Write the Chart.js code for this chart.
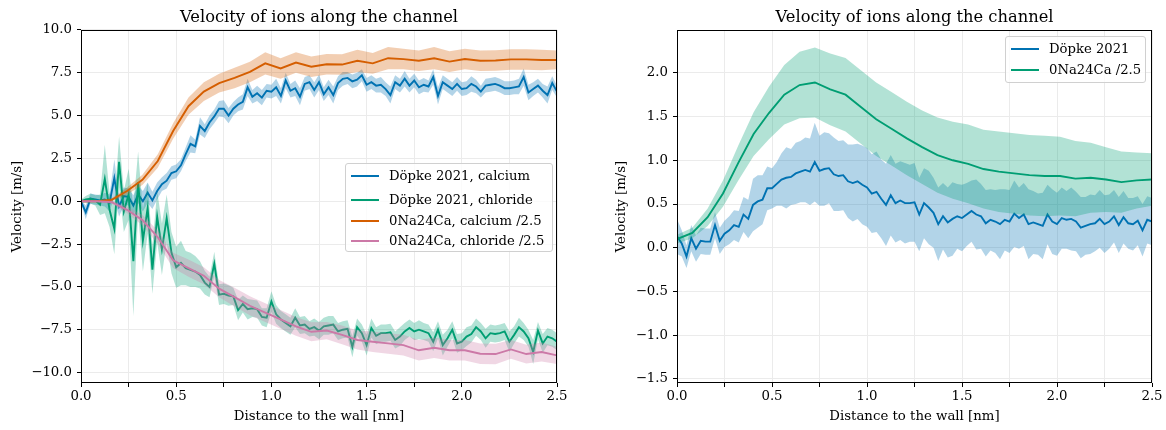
<!DOCTYPE html>
<html><head><meta charset="utf-8">
<script src="https://cdn.jsdelivr.net/npm/chart.js@4/dist/chart.umd.min.js"></script>
<style>
html,body{margin:0;padding:0;background:#fff}
body{width:1166px;height:430px;overflow:hidden;position:relative;font-family:'DejaVu Serif',serif}
#w1{position:absolute;left:0;top:0;width:580px;height:430px}
#w2{position:absolute;left:580px;top:0;width:586px;height:430px}
.legend{position:absolute;background:rgba(255,255,255,0.8);border:1px solid #d0d0d0;border-radius:3px;box-sizing:border-box;font-family:'DejaVu Serif',serif;font-size:13.2px;color:#000}
.legend .row{position:absolute;left:0;height:16px;line-height:16px;white-space:nowrap}
.legend .sw{position:absolute;left:5px;top:7px;width:28px;height:2px}
.legend .tx{position:absolute;left:43px;top:0}
</style></head>
<body>
<div id="w1"><canvas id="c1" width="580" height="430"></canvas></div>
<div id="w2"><canvas id="c2" width="586" height="430"></canvas></div>
<div id="lg1" class="legend" style="left:345px;top:163px;width:208px;height:89px"></div>
<div id="lg2" class="legend" style="left:1005px;top:36px;width:141px;height:47px"></div>
<script>
// ---------- data ----------
const titleText = 'Velocity of ions along the channel';
const xAxisTitle = 'Distance to the wall [nm]';
const yAxisTitle = 'Velocity [m/s]';
const xTickValues = [0,0.25,0.5,0.75,1,1.25,1.5,1.75,2,2.25,2.5];
const xTickLabels = ['0.0','','0.5','','1.0','','1.5','','2.0','','2.5'];
const yTicksLeft = [-10,-7.5,-5,-2.5,0,2.5,5,7.5,10];
const yTicksRight = [-1.5,-1,-0.5,0,0.5,1,1.5,2];
const legendLeftLabels = ['Do\u0308pke 2021, calcium','Do\u0308pke 2021, chloride','0Na24Ca, calcium /2.5','0Na24Ca, chloride /2.5'];
const legendRightLabels = ['Do\u0308pke 2021','0Na24Ca /2.5'];

// Döpke 2021: 101 samples, 0.025 nm apart
const dopkeCount = 101, dopkeStep = 0.025;
// 0Na24Ca: 32 samples spanning 0..2.5 nm
const simCount = 32, simStep = 2.5/31;

const dopkeCalcium = [0.0,-0.65,0.15,0.1,0.05,0.1,-0.1,1.35,-0.3,0.3,
 0.25,-0.25,0.4,0.0,0.5,0.05,0.6,1.0,1.2,1.65,
 1.75,2.1,2.75,3.35,3.2,4.4,4.1,4.6,4.95,5.4,
 5.4,5.0,5.4,5.65,5.8,6.65,6.1,6.3,6.05,6.45,
 6.4,6.65,6.15,7.05,6.45,6.6,6.1,6.85,6.95,6.5,
 6.95,6.25,6.65,6.2,6.9,7.15,7.2,7.0,7.1,7.35,
 6.8,6.95,6.75,6.8,6.55,6.2,6.95,6.75,7.15,6.75,
 7.05,6.65,6.8,6.7,7.25,6.15,6.95,6.75,6.55,6.85,
 6.55,6.6,6.85,6.7,6.4,6.75,6.8,6.85,6.75,6.6,
 6.6,6.65,6.7,7.25,6.35,6.55,6.75,6.45,6.2,6.9,
 6.4];
const dopkeCalciumSd = [0.1,0.4,0.3,0.3,0.3,0.4,0.5,1.1,0.6,0.5,
 0.5,0.6,0.5,0.6,0.6,0.5,0.5,0.4,0.45,0.4,
 0.4,0.35,0.4,0.5,0.4,0.5,0.4,0.4,0.4,0.45,
 0.5,0.45,0.4,0.4,0.45,0.5,0.4,0.45,0.45,0.4,
 0.4,0.5,0.45,0.45,0.4,0.45,0.5,0.4,0.4,0.45,
 0.45,0.4,0.45,0.5,0.4,0.4,0.35,0.4,0.4,0.35,
 0.4,0.4,0.4,0.45,0.4,0.5,0.4,0.4,0.45,0.4,
 0.4,0.4,0.4,0.35,0.45,0.5,0.4,0.4,0.4,0.4,
 0.4,0.4,0.45,0.4,0.35,0.4,0.4,0.4,0.4,0.4,
 0.4,0.4,0.45,0.5,0.45,0.4,0.4,0.4,0.5,0.4,
 0.35];
const dopkeChloride = [0.0,0.1,0.15,0.05,-0.2,1.3,-0.5,-1.6,2.3,-0.6,
 0.4,-3.5,1.1,-2.3,-0.4,-4.0,-0.9,-2.8,-1.0,-3.0,
 -3.85,-3.6,-3.9,-4.0,-4.1,-4.3,-4.75,-5.0,-3.65,-5.45,
 -5.4,-5.5,-5.55,-6.35,-6.0,-6.3,-6.25,-6.3,-6.75,-6.8,
 -5.85,-6.6,-6.9,-7.1,-7.3,-6.8,-7.25,-7.2,-7.45,-7.35,
 -7.55,-7.3,-7.25,-7.2,-7.6,-7.5,-7.45,-8.5,-7.35,-7.7,
 -8.4,-7.4,-7.85,-7.7,-7.7,-7.65,-8.1,-7.9,-7.6,-7.4,
 -7.6,-7.5,-7.6,-7.7,-8.2,-7.5,-8.4,-8.0,-7.5,-8.3,
 -8.2,-7.9,-7.75,-7.35,-7.6,-8.0,-7.7,-7.75,-7.7,-7.6,
 -8.2,-7.8,-7.35,-7.6,-8.0,-8.8,-7.55,-8.3,-7.9,-8.0,
 -8.2];
const dopkeChlorideSd = [0.1,0.2,0.3,0.3,0.6,2.0,1.0,1.5,1.5,1.2,
 1.5,3.2,1.8,1.8,1.5,1.4,1.5,1.5,1.4,1.2,
 1.2,1.3,1.0,1.0,0.9,0.8,0.7,0.6,0.7,0.6,
 0.6,0.6,0.5,0.6,0.5,0.6,0.5,0.5,0.5,0.55,
 0.6,0.55,0.5,0.5,0.5,0.55,0.5,0.5,0.45,0.5,
 0.5,0.5,0.55,0.5,0.5,0.5,0.5,0.6,0.5,0.5,
 0.6,0.55,0.5,0.5,0.5,0.5,0.5,0.55,0.5,0.5,
 0.5,0.55,0.5,0.5,0.55,0.5,0.6,0.5,0.5,0.55,
 0.5,0.55,0.5,0.5,0.5,0.55,0.5,0.5,0.5,0.5,
 0.6,0.5,0.55,0.5,0.5,0.7,0.5,0.55,0.5,0.5,
 0.5];
const simCalcium = [0,0,0.08,0.6,1.25,2.35,4.1,5.55,6.4,6.9,
 7.2,7.55,8.05,7.75,8.1,7.85,8.0,7.98,8.2,8.05,
 8.35,8.3,8.2,8.35,8.15,8.3,8.2,8.22,8.28,8.28,
 8.25,8.25];
const simCalciumSd = [0.02,0.05,0.1,0.2,0.3,0.4,0.45,0.5,0.55,0.55,
 0.6,0.6,0.65,0.6,0.6,0.6,0.6,0.6,0.65,0.6,
 0.65,0.6,0.6,0.65,0.6,0.6,0.6,0.6,0.6,0.6,
 0.6,0.55];
const simChloride = [0,0,-0.05,-0.5,-1.1,-2.1,-3.45,-3.9,-4.35,-5.1,
 -5.6,-6.1,-6.5,-6.9,-7.3,-7.62,-7.55,-7.8,-8.1,-8.2,
 -8.3,-8.4,-8.7,-8.55,-8.7,-8.7,-8.9,-8.92,-8.65,-8.92,
 -8.8,-9.0];
const simChlorideSd = [0.02,0.05,0.1,0.2,0.3,0.4,0.45,0.5,0.5,0.5,
 0.55,0.55,0.55,0.55,0.55,0.55,0.5,0.55,0.55,0.6,
 0.6,0.6,0.6,0.6,0.6,0.6,0.6,0.6,0.55,0.55,
 0.55,0.5];
// right panel
const dopkeTotal = [0.13,0.05,-0.1,0.11,-0.01,0.08,0.07,0.07,0.26,0.08,
 0.16,0.2,0.26,0.24,0.38,0.33,0.49,0.53,0.55,0.68,
 0.68,0.73,0.78,0.8,0.81,0.85,0.87,0.89,0.87,0.98,
 0.88,0.9,0.91,0.84,0.82,0.83,0.76,0.74,0.76,0.72,
 0.69,0.62,0.64,0.56,0.49,0.6,0.51,0.54,0.51,0.51,
 0.52,0.38,0.51,0.46,0.4,0.27,0.36,0.29,0.33,0.36,
 0.34,0.38,0.42,0.38,0.36,0.28,0.32,0.3,0.27,0.32,
 0.3,0.39,0.34,0.38,0.27,0.29,0.27,0.25,0.38,0.3,
 0.27,0.34,0.32,0.33,0.3,0.23,0.25,0.27,0.28,0.33,
 0.27,0.3,0.36,0.26,0.35,0.28,0.27,0.31,0.2,0.32,
 0.3];
const dopkeTotalSd = [0.2,0.15,0.13,0.15,0.15,0.15,0.15,0.15,0.15,0.15,
 0.15,0.16,0.17,0.18,0.2,0.22,0.3,0.3,0.28,0.25,
 0.23,0.25,0.3,0.35,0.32,0.35,0.35,0.37,0.38,0.45,
 0.4,0.42,0.4,0.42,0.4,0.4,0.42,0.44,0.43,0.45,
 0.45,0.45,0.46,0.45,0.47,0.46,0.45,0.45,0.46,0.44,
 0.45,0.42,0.4,0.42,0.4,0.42,0.38,0.4,0.42,0.37,
 0.38,0.36,0.35,0.4,0.37,0.38,0.35,0.36,0.4,0.35,
 0.36,0.38,0.35,0.36,0.4,0.36,0.35,0.38,0.34,0.37,
 0.36,0.35,0.33,0.36,0.34,0.35,0.33,0.34,0.32,0.33,
 0.33,0.31,0.3,0.32,0.3,0.29,0.3,0.28,0.3,0.27,
 0.27];
const simTotal = [0.1,0.17,0.35,0.62,0.97,1.3,1.54,1.75,1.86,1.89,
 1.81,1.75,1.61,1.47,1.36,1.25,1.15,1.06,1.0,0.96,
 0.9,0.87,0.85,0.83,0.82,0.82,0.79,0.8,0.78,0.75,
 0.77,0.78];
const simTotalSd = [0.05,0.06,0.1,0.15,0.2,0.25,0.3,0.34,0.38,0.4,
 0.41,0.42,0.42,0.42,0.42,0.42,0.42,0.43,0.44,0.45,
 0.45,0.46,0.46,0.46,0.46,0.45,0.43,0.4,0.37,0.35,
 0.32,0.3];

// ---------- styling ----------
const C_BLUE = '#0072B2', C_GREEN = '#009E73', C_ORANGE = '#D55E00', C_PINK = '#CC79A7';
const FONT = 'DejaVu Serif';

const xDopke = Array.from({length: dopkeCount}, (_, i) => +(i*dopkeStep).toFixed(4));
const xSim = Array.from({length: simCount}, (_, i) => i*simStep);

function hexA(h, a){const n=parseInt(h.slice(1),16);return `rgba(${n>>16&255},${n>>8&255},${n&255},${a})`;}
function pts(xs, ys){return ys.map((y,i)=>({x:xs[i],y}));}
function edge(xs, m, s, sign){return m.map((v,i)=>({x:xs[i],y:v+sign*s[i]}));}
function series(xs, m, s, color, order){
  return [
    {data:edge(xs,m,s,-1), borderWidth:0, borderColor:'rgba(0,0,0,0)', backgroundColor:'rgba(0,0,0,0)', pointRadius:0, fill:false, order:order+0.2},
    {data:edge(xs,m,s,1), borderWidth:0, borderColor:'rgba(0,0,0,0)', backgroundColor:hexA(color,0.3), pointRadius:0, fill:'-1', order:order+0.1},
    {data:pts(xs,m), borderColor:color, borderWidth:1.9, pointRadius:0, fill:false, order:order}
  ];
}
const fmt = v => (v<0?'\u2212':'') + Math.abs(v).toFixed(1);

const framePlugin = {
  id:'frame',
  afterDraw(chart){
    const {ctx, chartArea:a} = chart;
    ctx.save();
    ctx.strokeStyle = '#000'; ctx.lineWidth = 1;
    const l = Math.round(a.left)+0.5, t = Math.round(a.top)+0.5, r = Math.round(a.right)-0.5, b = Math.round(a.bottom)-0.5;
    ctx.strokeRect(l, t, r-l, b-t);
    ctx.restore();
  }
};

function makeChart(id, datasets, yMin, yMax, yTicks, yWidth, padRight, yTitlePad){
  return new Chart(document.getElementById(id), {
    type:'line',
    data:{datasets},
    plugins:[framePlugin],
    options:{
      responsive:false, animation:false, devicePixelRatio:1,
      layout:{padding:{left:0,right:padRight,top:0,bottom:0}},
      elements:{line:{tension:0}},
      plugins:{
        legend:{display:false}, tooltip:{enabled:false},
        title:{display:true, text:titleText, fullSize:false, color:'#000',
          font:{family:FONT, size:16.3, weight:'normal', lineHeight:1.2}, padding:{top:7.7,bottom:2.7}},
        filler:{propagate:false}
      },
      scales:{
        x:{type:'linear', min:0, max:2.5,
          afterBuildTicks:a=>{a.ticks = xTickValues.map(v=>({value:v}));},
          ticks:{autoSkip:false, maxRotation:0, minRotation:0, padding:2, color:'#000',
            font:{family:FONT,size:13.3}, callback:v=>xTickLabels[xTickValues.indexOf(v)] ?? ''},
          grid:{color:'#ebebeb', lineWidth:1, tickLength:4, tickColor:'#000'},
          border:{display:false},
          title:{display:true, text:xAxisTitle, color:'#000', font:{family:FONT,size:13.3,lineHeight:1.2}, padding:{top:0,bottom:5}},
          afterFit:s=>{s.height = 47;}
        },
        y:{type:'linear', min:yMin, max:yMax,
          afterBuildTicks:a=>{a.ticks = yTicks.map(v=>({value:v}));},
          ticks:{autoSkip:false, padding:5, color:'#000', font:{family:FONT,size:13.3}, callback:fmt},
          grid:{color:'#ebebeb', lineWidth:1, tickLength:4, tickColor:'#000'},
          border:{display:false},
          title:{display:true, text:yAxisTitle, color:'#000', font:{family:FONT,size:13.3,lineHeight:1.2}, padding:{top:yTitlePad,bottom:0}},
          afterFit:s=>{s.width = yWidth;}
        }
      }
    }
  });
}

const leftSets = [
  ...series(xDopke, dopkeCalcium, dopkeCalciumSd, C_BLUE, 40),
  ...series(xDopke, dopkeChloride, dopkeChlorideSd, C_GREEN, 30),
  ...series(xSim, simCalcium, simCalciumSd, C_ORANGE, 20),
  ...series(xSim, simChloride, simChlorideSd, C_PINK, 10)
];
const rightSets = [
  ...series(xDopke, dopkeTotal, dopkeTotalSd, C_BLUE, 40),
  ...series(xSim, simTotal, simTotalSd, C_GREEN, 30)
];
makeChart('c1', leftSets, -10.61, 10.0, yTicksLeft, 81, 23, 10);
makeChart('c2', rightSets, -1.546, 2.49, yTicksRight, 97, 14, 34);

function buildLegend(id, labels, colors, rowCenters){
  const el = document.getElementById(id);
  labels.forEach((lab,i)=>{
    const row = document.createElement('div');
    row.className='row'; row.style.top = (rowCenters[i]-8)+'px';
    const sw = document.createElement('span'); sw.className='sw'; sw.style.background = colors[i];
    const tx = document.createElement('span'); tx.className='tx'; tx.textContent = lab;
    row.appendChild(sw); row.appendChild(tx); el.appendChild(row);
  });
}
buildLegend('lg1', legendLeftLabels, [C_BLUE,C_GREEN,C_ORANGE,C_PINK], [12,36,57,77]);
buildLegend('lg2', legendRightLabels, [C_BLUE,C_GREEN], [12,33]);
</script>
</body></html>
